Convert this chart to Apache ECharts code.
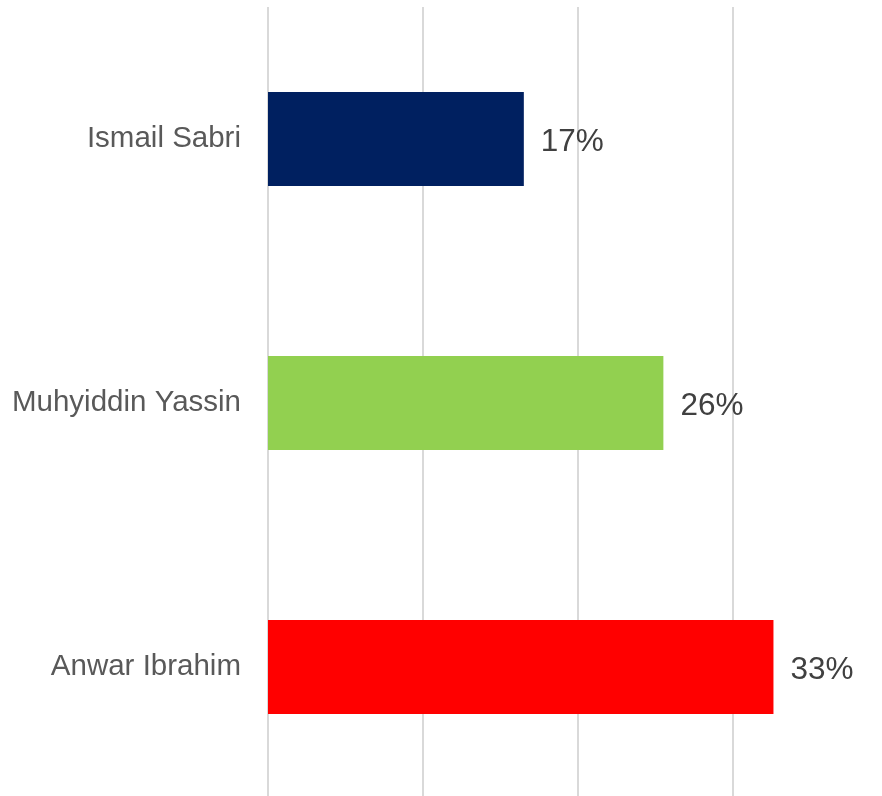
<!DOCTYPE html>
<html>
<head>
<meta charset="utf-8">
<script src="https://cdn.jsdelivr.net/npm/echarts@6/dist/echarts.min.js"></script>
<style>
  html, body { margin: 0; padding: 0; background: #fff; }
  #chart { width: 882px; height: 796px; }
</style>
</head>
<body>
<div id="chart"></div>
<script>
const names = ['Ismail Sabri', 'Muhyiddin Yassin', 'Anwar Ibrahim']
const shares = [16.5, 25.5, 32.6]
const barColors = ['#002060', '#92D050', '#FF0000']

const chart = echarts.init(document.getElementById('chart'))
const font = 'Liberation Sans, Arial, sans-serif'

chart.setOption({
  animation: false,
  grid: { left: 268, top: 7, height: 792, right: 0, outerBoundsMode: 'none' },
  xAxis: {
    type: 'value', min: 0, max: 39.6, interval: 10,
    axisLabel: { show: false }, axisLine: { show: false }, axisTick: { show: false },
    splitLine: { show: true, showMaxLine: false, lineStyle: { color: '#d9d9d9', width: 2 } }
  },
  yAxis: {
    type: 'category', data: names, inverse: true,
    axisLine: { show: false }, axisTick: { show: false },
    axisLabel: { color: '#595959', fontSize: 29.5, fontFamily: font, margin: 27 }
  },
  series: [{
    type: 'bar', barWidth: 94,
    data: shares.map((v, i) => ({ value: v, itemStyle: { color: barColors[i] } })),
    label: {
      show: true, position: 'right', distance: 17, offset: [0, 3],
      color: '#404040', fontSize: 31.5, fontFamily: font,
      formatter: p => Math.round(p.value) + '%'
    }
  }]
})
</script>
</body>
</html>
